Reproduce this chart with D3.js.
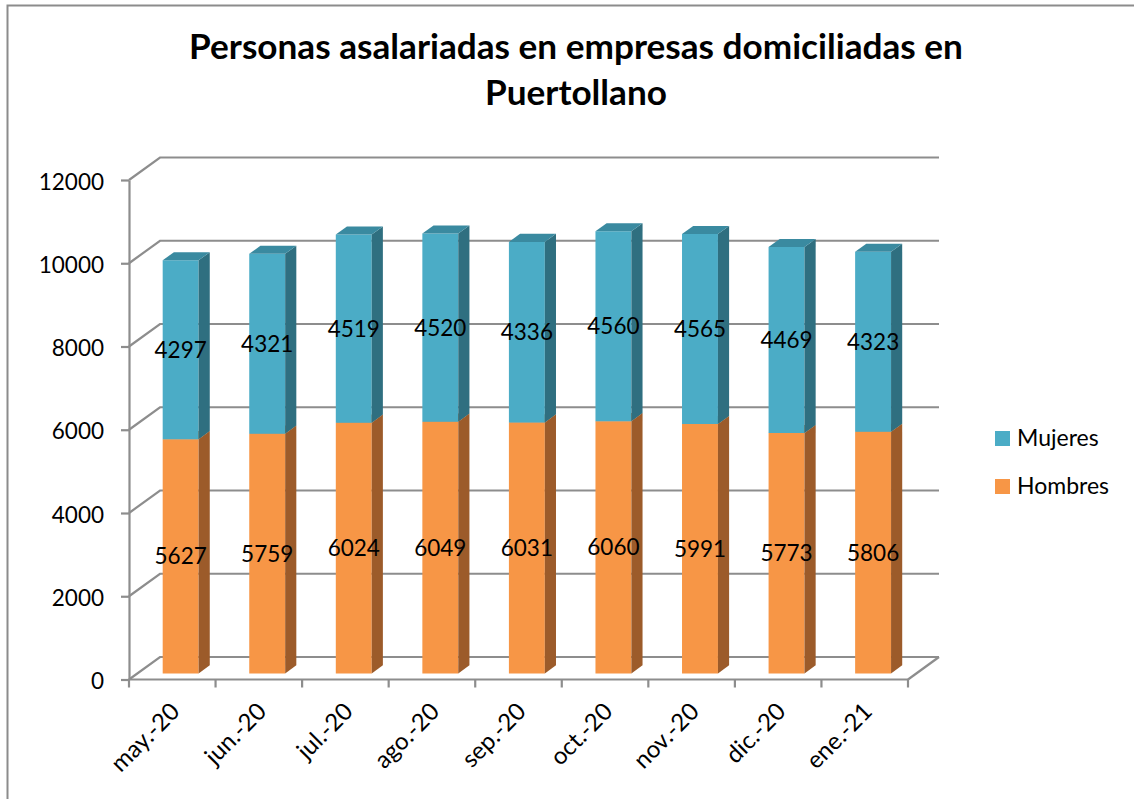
<!DOCTYPE html>
<html><head><meta charset="utf-8">
<script src="https://cdn.jsdelivr.net/npm/d3@7"></script>
<style>
html,body{margin:0;padding:0;background:#fff;}
svg{display:block;}
text{font-family:Lato,"Open Sans",sans-serif;fill:#000;}
</style></head>
<body>
<svg id="chart" width="1134" height="799"></svg>
<script>
const categories = ["may.-20","jun.-20","jul.-20","ago.-20","sep.-20","oct.-20","nov.-20","dic.-20","ene.-21"];
const hombres = [5627,5759,6024,6049,6031,6060,5991,5773,5806];
const mujeres = [4297,4321,4519,4520,4336,4560,4565,4469,4323];
const yTicks = [0,2000,4000,6000,8000,10000,12000];
const seriesNames = ["Mujeres","Hombres"];
const titleLines = ["Personas asalariadas en empresas domiciliadas en","Puertollano"];

const W = 1134, H = 799;
const svg = d3.select("#chart");
const gridColor = "#8d8d8d";

// frame
svg.append("path").attr("d", `M7.5,${H} L7.5,5.5 L${W},5.5`)
  .attr("fill","none").attr("stroke","#8c8c8c").attr("stroke-width",2);

// 3D geometry
const DX = 31, DY = -22.5;           // full depth offset
const dFront = 0.27, dBack = 0.63;    // bar depth range
const x = d3.scaleBand().domain(categories).range([129, 908]).padding(0);
const y = d3.scaleLinear().domain([0, 12000]).range([679.5, 180]);
const barW = x.bandwidth() * 0.415;

const grid = svg.append("g");
yTicks.forEach(v => {
  const yy = y(v);
  grid.append("path")
    .attr("d", `M${x.range()[0]},${yy} L${x.range()[0]+DX},${yy+DY} L${x.range()[1]+DX},${yy+DY}`)
    .attr("fill","none").attr("stroke",gridColor).attr("stroke-width",2.2);
});
grid.append("path")
  .attr("d", `M${x.range()[1]},${y(0)} L${x.range()[1]+DX},${y(0)+DY}`)
  .attr("fill","none").attr("stroke",gridColor).attr("stroke-width",2.2);

// y axis
const yAxis = d3.axisLeft(y).tickValues(yTicks).tickSize(8).tickSizeOuter(0).tickPadding(17).tickFormat(d3.format("d"));
const ga = svg.append("g").attr("transform",`translate(${x.range()[0]},0)`).call(yAxis);
ga.select(".domain").attr("stroke",gridColor).attr("stroke-width",2.2);
ga.selectAll(".tick line").attr("stroke",gridColor).attr("stroke-width",2.2);
ga.selectAll(".tick text").attr("font-family","Lato").attr("font-size",22.5).attr("fill","#000").attr("dy","0.4em");

// x axis line and ticks at band boundaries
const gx = svg.append("g");
gx.append("line").attr("x1",x.range()[0]).attr("x2",x.range()[1]).attr("y1",y(0)).attr("y2",y(0))
  .attr("stroke",gridColor).attr("stroke-width",2.2);
const bounds = categories.map(c => x(c)).concat([x.range()[1]]);
gx.selectAll("line.tk").data(bounds).enter().append("line").attr("class","tk")
  .attr("x1",d=>d).attr("x2",d=>d).attr("y1",y(0)).attr("y2",y(0)+8)
  .attr("stroke",gridColor).attr("stroke-width",2.2);
gx.selectAll("text").data(categories).enter().append("text")
  .attr("transform", d => `translate(${x(d)+x.bandwidth()/2+3},${707}) rotate(-45)`)
  .attr("text-anchor","end").attr("dy","0.35em")
  .attr("font-size",24).text(d=>d);

// bars
const colors = {
  Hombres: {front:"#F79646", side:"#9C5B2A", top:"#C4783A"},
  Mujeres: {front:"#4BACC6", side:"#2F6F80", top:"#3A8AA0"}
};
const stacks = categories.map((c,i) => ([
  {cat:c, name:"Hombres", y0:0, y1:hombres[i], v:hombres[i]},
  {cat:c, name:"Mujeres", y0:hombres[i], y1:hombres[i]+mujeres[i], v:mujeres[i]}
]));
const bars = svg.append("g");
const P = (px, py, d) => [px + DX*d, py + DY*d];
stacks.forEach(stack => {
  stack.forEach(s => {
    const xl = x(s.cat) + (x.bandwidth()-barW)/2, xr = xl + barW;
    const yb = y(s.y0), yt = y(s.y1);
    const col = colors[s.name];
    const poly = pts => "M" + pts.map(p=>p.join(",")).join("L") + "Z";
    bars.append("path").attr("d", poly([P(xl,yb,dFront),P(xr,yb,dFront),P(xr,yt,dFront),P(xl,yt,dFront)]))
      .attr("fill",col.front);
    bars.append("path").attr("d", poly([P(xr,yb,dFront),P(xr,yb,dBack),P(xr,yt,dBack),P(xr,yt,dFront)]))
      .attr("fill",col.side);
    bars.append("path").attr("d", poly([P(xl,yt,dFront),P(xr,yt,dFront),P(xr,yt,dBack),P(xl,yt,dBack)]))
      .attr("fill",col.top);
  });
});
// labels
const labels = svg.append("g");
stacks.forEach(stack => stack.forEach(s => {
  const cx = x(s.cat) + x.bandwidth()/2 + DX*dFront;
  const cy = (y(s.y0)+y(s.y1))/2 + DY*dFront;
  labels.append("text").attr("x",cx).attr("y",cy).attr("dy","0.36em")
    .attr("text-anchor","middle").attr("font-size",22.5).text(s.v);
}));

// legend
const lg = svg.append("g");
seriesNames.forEach((n,i) => {
  lg.append("rect").attr("x",995).attr("y",431+i*48).attr("width",15).attr("height",15).attr("fill",colors[n].front);
  lg.append("text").attr("x",1017).attr("y",446+i*48).attr("font-size",23).text(n);
});

// title fitted to width
const tg = svg.append("g");
const t1 = tg.append("text").attr("x",576).attr("y",59).attr("text-anchor","middle")
  .attr("font-weight","bold").attr("font-size",30).text(titleLines[0]);
const len = t1.node().getComputedTextLength();
const fs = 30 * 774 / len;
t1.attr("font-size",fs);
tg.append("text").attr("x",576).attr("y",105).attr("text-anchor","middle")
  .attr("font-weight","bold").attr("font-size",fs).text(titleLines[1]);
</script>
</body></html>
